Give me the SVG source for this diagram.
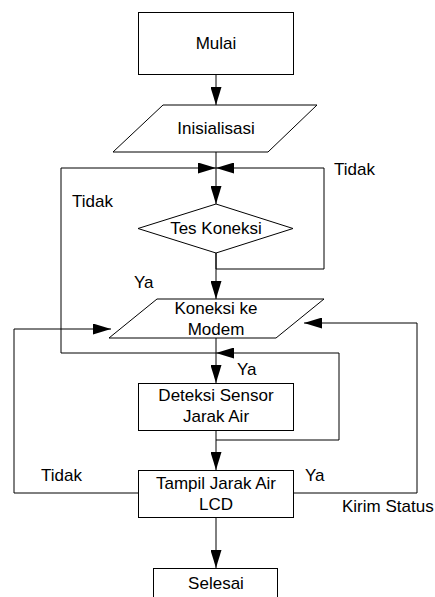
<svg xmlns="http://www.w3.org/2000/svg" width="435" height="597" viewBox="0 0 435 597">
<defs>
<marker id="arr" markerUnits="userSpaceOnUse" markerWidth="18" markerHeight="11" refX="18" refY="5.5" orient="auto">
<path d="M0,0 L18,5.5 L0,11 z" fill="#000"/>
</marker>
<style>
.s{fill:#fff;stroke:#000;stroke-width:1}
.c{fill:none;stroke:#000;stroke-width:1}
text{font-family:"Liberation Sans",Arial,sans-serif;font-size:17px;fill:#000}
.m{text-anchor:middle}
</style>
</defs>
<rect width="435" height="597" fill="#fff"/>
<g id="connectors">
<path class="c" d="M216,74 V105" marker-end="url(#arr)"/>
<path class="c" d="M216,152 V168"/>
<path class="c" d="M216,168 V204" marker-end="url(#arr)"/>
<path class="c" d="M216,253 V269 H324 V168 H216" marker-end="url(#arr)"/>
<path class="c" d="M216,253 V299" marker-end="url(#arr)"/>
<path class="c" d="M216,353 H61 V168 H216" marker-end="url(#arr)"/>
<path class="c" d="M216,338 V383" marker-end="url(#arr)"/>
<path class="c" d="M216,440 H339 V353 H216" marker-end="url(#arr)"/>
<path class="c" d="M216,430 V470" marker-end="url(#arr)"/>
<path class="c" d="M138,493 H14 V329 H111" marker-end="url(#arr)"/>
<path class="c" d="M293,493 H417 V323 H304" marker-end="url(#arr)"/>
<path class="c" d="M216,517 V568" marker-end="url(#arr)"/>
</g>
<g id="mulai"><rect class="s" x="138.5" y="12.5" width="155" height="62"/><text class="m" x="216" y="49">Mulai</text></g>
<g id="inisialisasi"><polygon class="s" points="163,105 317,105 268,152 113,152"/><text class="m" x="216" y="134">Inisialisasi</text></g>
<g id="tes"><polygon class="s" points="216,204 293,228.5 216,253 138,228.5"/><text class="m" x="216" y="234">Tes Koneksi</text></g>
<g id="koneksi"><polygon class="s" points="157,299 324,299 276,338 109,338"/><text class="m" x="216" y="314">Koneksi ke</text><text class="m" x="216" y="335">Modem</text></g>
<g id="deteksi"><rect class="s" x="138.5" y="383.5" width="155" height="47"/><text class="m" x="216" y="401">Deteksi Sensor</text><text class="m" x="216" y="422">Jarak Air</text></g>
<g id="tampil"><rect class="s" x="138.5" y="470.5" width="155" height="47"/><text class="m" x="216" y="489">Tampil Jarak Air</text><text class="m" x="216" y="510">LCD</text></g>
<g id="selesai"><rect class="s" x="153.5" y="568.5" width="124" height="40"/><text class="m" x="216" y="589">Selesai</text></g>
<g id="labels">
<text x="334" y="175">Tidak</text>
<text x="72" y="207">Tidak</text>
<text x="134" y="288">Ya</text>
<text x="237" y="375">Ya</text>
<text x="41" y="481">Tidak</text>
<text x="305" y="481">Ya</text>
<text x="342" y="512">Kirim Status</text>
</g>
</svg>
